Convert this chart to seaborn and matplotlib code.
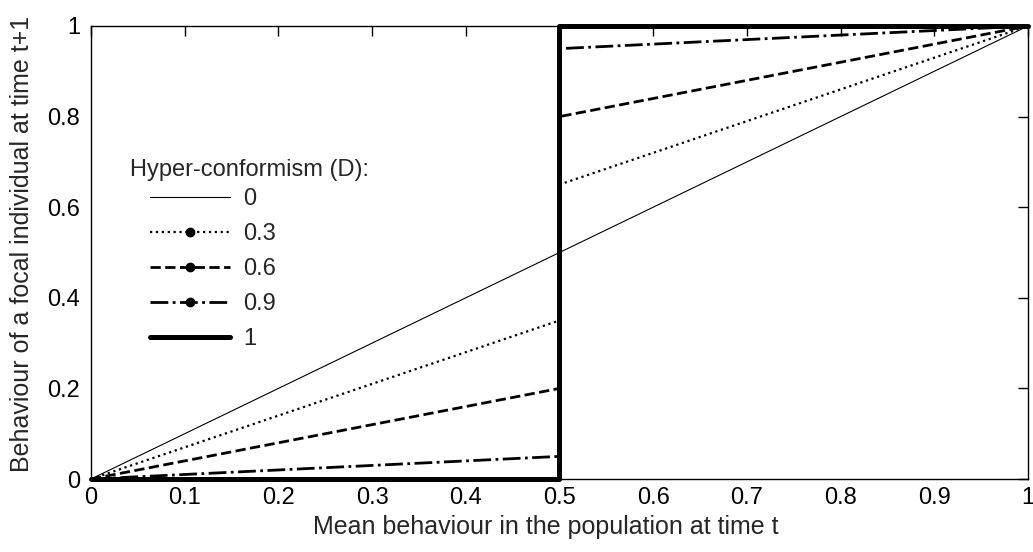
import numpy as np
import pandas as pd
import matplotlib
matplotlib.use('Agg')
import matplotlib.pyplot as plt
import seaborn as sns
from matplotlib.lines import Line2D

# ---- DATA ----
x_vals = [0.0, 0.5, 0.5, 1.0]
d_labels = ['0', '0.3', '0.6', '0.9', '1']
y_d0 = [0.0, 0.5, 0.5, 1.0]
y_d03 = [0.0, 0.35, 0.65, 1.0]
y_d06 = [0.0, 0.2, 0.8, 1.0]
y_d09 = [0.0, 0.05, 0.95, 1.0]
y_d1 = [0.0, 0.0, 1.0, 1.0]

series = [y_d0, y_d03, y_d06, y_d09, y_d1]
styles = ['-', ':', '--', '-.', '-']
widths = [0.8, 1.6, 2.0, 2.0, 3.6]
has_marker = [False, True, True, True, False]

sns.set_style('white')
plt.rcParams['font.family'] = ['Liberation Sans', 'DejaVu Sans']

fig = plt.figure(figsize=(10.33, 5.52), dpi=100)
ax = fig.add_axes([0.0881, 0.1322, 0.907, 0.8207])

handles = []
for lab, ys, ls, lw, mk in zip(d_labels, series, styles, widths, has_marker):
    df = pd.DataFrame({'x': x_vals, 'y': ys})
    sns.lineplot(data=df, x='x', y='y', ax=ax, estimator=None, sort=False,
                 color='black', linestyle=ls, linewidth=lw, clip_on=False,
                 zorder=3 if lab == '1' else 2)
    handles.append(Line2D([], [], color='black', linestyle=ls, linewidth=lw,
                          marker='o' if mk else None, markersize=6))

ax.set_xlim(0, 1)
ax.set_ylim(0, 1)
ax.set_xticks(np.arange(0, 1.01, 0.1))
ax.set_xticklabels(['0', '0.1', '0.2', '0.3', '0.4', '0.5', '0.6', '0.7', '0.8', '0.9', '1'])
ax.set_yticks(np.arange(0, 1.01, 0.2))
ax.set_yticklabels(['0', '0.2', '0.4', '0.6', '0.8', '1'])
ax.tick_params(direction='in', length=7, width=1, top=True, right=True,
               labelsize=17, colors='black')
ax.tick_params(axis='x', pad=6)
ax.tick_params(axis='y', pad=8)
for sp in ax.spines.values():
    sp.set_visible(True)
    sp.set_color('black')
    sp.set_linewidth(1.0)

ax.set_xlabel('Mean behaviour in the population at time t', fontsize=18, va='center')
ax.xaxis.set_label_coords(0.485, -0.106)
ax.set_ylabel('Behaviour of a focal individual at time t+1', fontsize=18, va='center')
ax.yaxis.set_label_coords(-0.0736, 0.52)

# legend title is indented less than the entries, so it is a separate text
ax.text(0.0416, 0.682, 'Hyper-conformism (D):', transform=ax.transAxes,
        fontsize=17, ha='left', va='center')
ax.legend(handles, d_labels, loc='upper left', bbox_to_anchor=(0.063, 0.642),
          frameon=False, fontsize=17, handlelength=3.4, numpoints=1,
          labelspacing=0.55, handletextpad=0.55, borderpad=0, borderaxespad=0)

fig.savefig('out.png', dpi=100)
